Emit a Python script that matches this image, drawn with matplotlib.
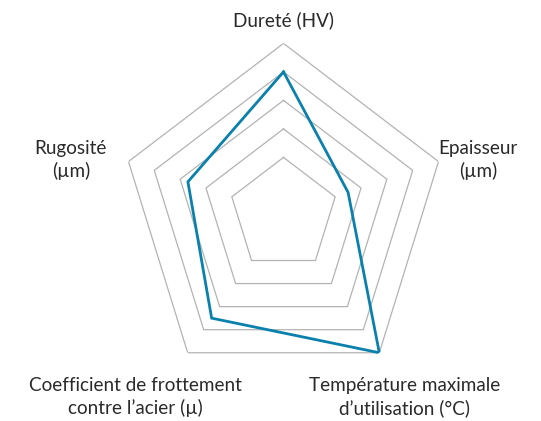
import numpy as np
import matplotlib
matplotlib.use('Agg')
import matplotlib.pyplot as plt

# axes, clockwise from the top
labels = ['Dureté (HV)', 'Epaisseur\n(µm)', 'Température maximale\nd’utilisation (°C)',
          'Coefficient de frottement\ncontre l’acier (µ)', 'Rugosité\n(µm)']
values = [4, 1.5, 5, 3.5, 2.7]
levels = [1, 2, 3, 4, 5]

# where each label sits, in figure fractions
label_pos = [(0.524, 0.952), (0.884, 0.62), (0.747, 0.057), (0.25, 0.057), (0.131, 0.62)]

W, H = 541, 421
fig = plt.figure(figsize=(W / 100, H / 100), dpi=100)
ax = fig.add_axes([120.5 / W, 35.6 / H, 326 / W, 342 / H], projection='polar')
ax.set_aspect('auto')
ax.set_theta_zero_location('N')
ax.set_theta_direction(-1)

angles = np.linspace(0, 2 * np.pi, len(labels), endpoint=False)
closed = np.append(angles, angles[0])

for lev in levels:
    ax.plot(closed, [lev] * len(closed), color='#b3b3b3', lw=0.9, zorder=1)

ax.plot(closed, values + values[:1], color='#0a80ad', lw=2.0, zorder=3,
        solid_joinstyle='miter')

ax.set_ylim(-1, 5)
ax.set_xticks([])
ax.set_yticks([])
ax.grid(False)
ax.spines['polar'].set_visible(False)
ax.patch.set_visible(False)

for lab, (x, y) in zip(labels, label_pos):
    fig.text(x, y, lab, ha='center', va='center', fontsize=13.6,
             family='Lato', color='#2a2a2a', linespacing=1.35)

fig.savefig('out.png', dpi=100)
